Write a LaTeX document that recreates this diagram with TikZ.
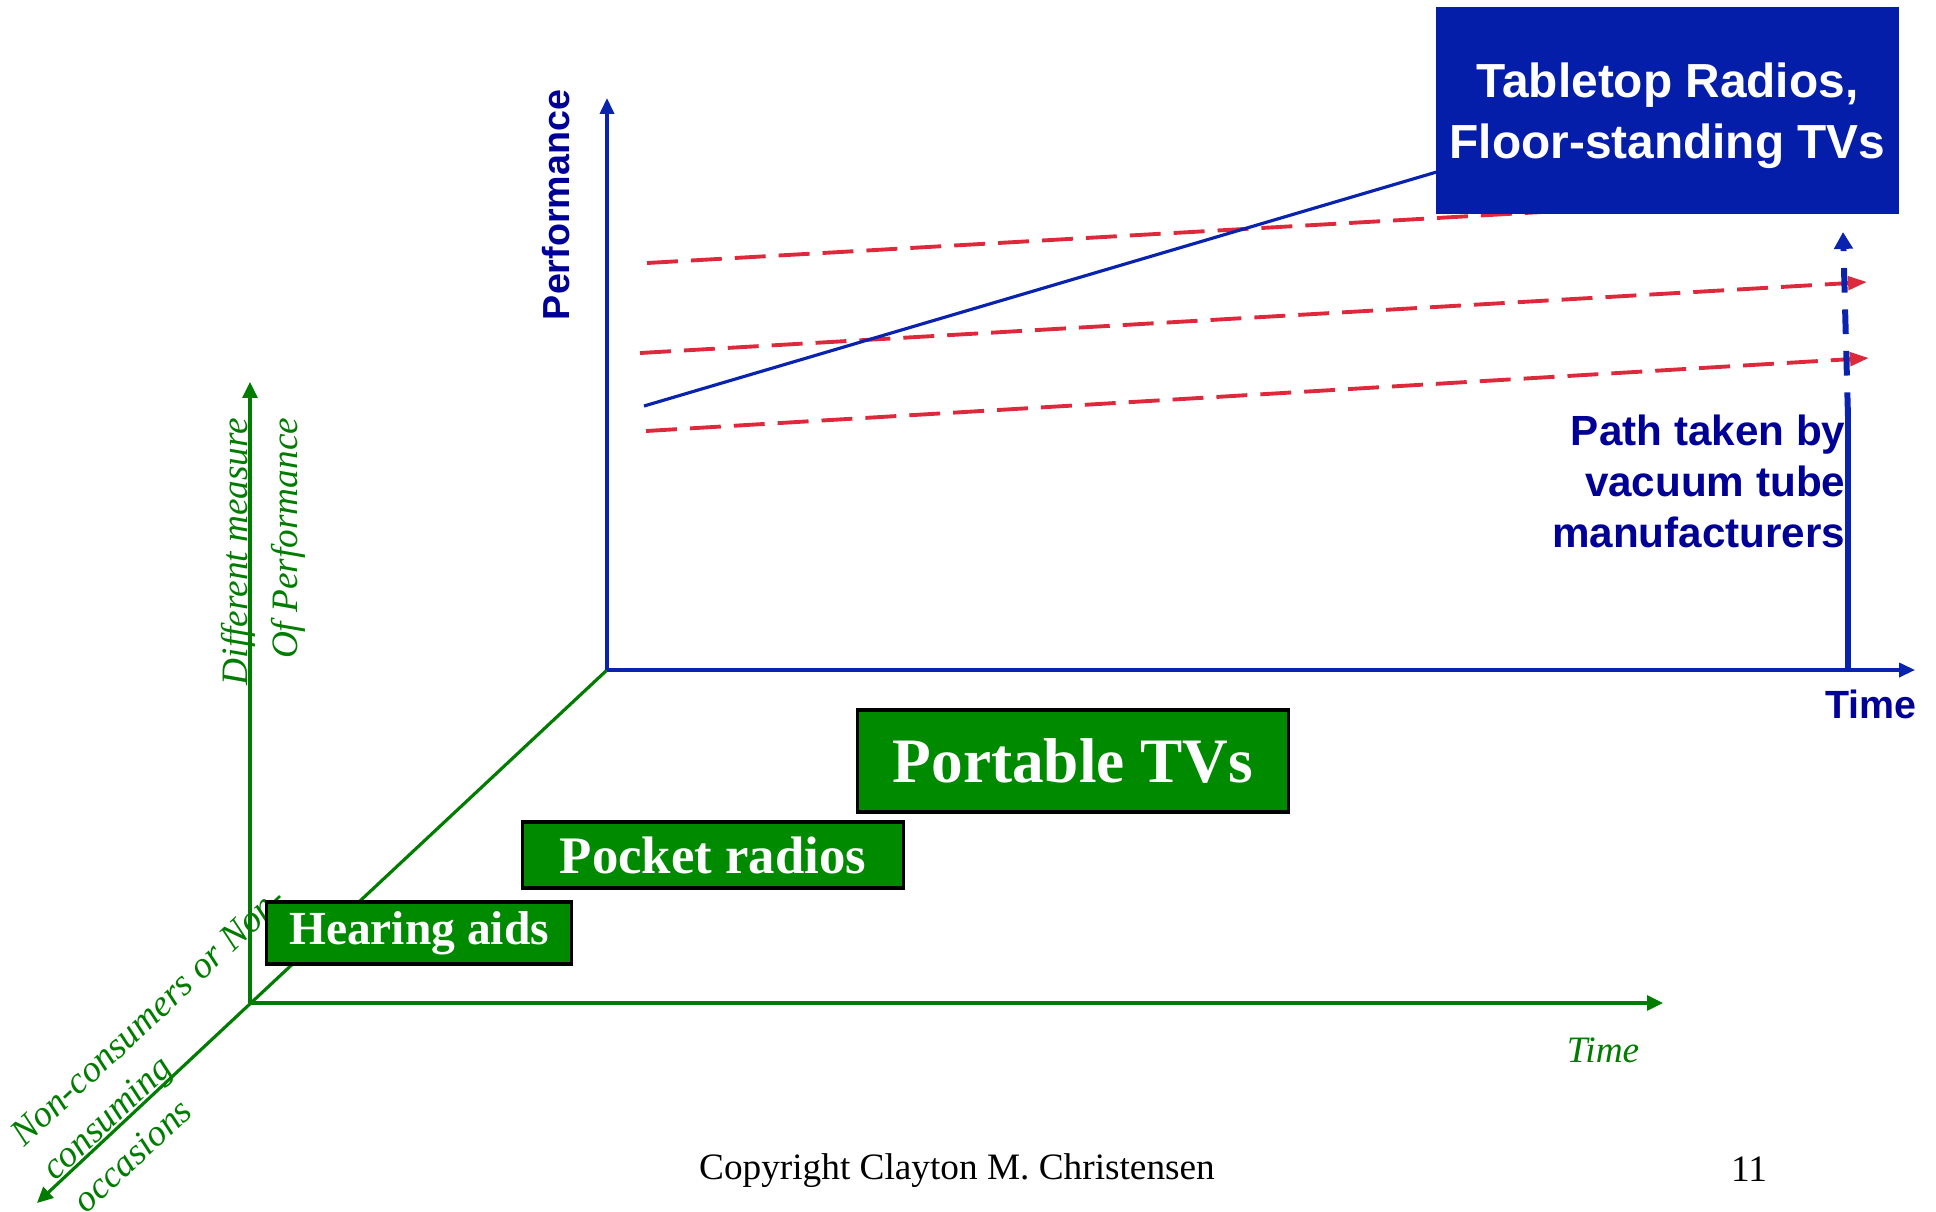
\documentclass[tikz,border=0pt]{standalone}
\usepackage{fontspec}
\usepackage{xcolor}
\usepackage{tikz}
\usetikzlibrary{arrows.meta,positioning}
\setmainfont{Liberation Serif}
\newfontfamily\arialfont{Liberation Sans}
\newfontfamily\timesfont{Liberation Serif}
\definecolor{boxblue}{RGB}{4,30,170}
\definecolor{navytext}{RGB}{0,0,150}
\definecolor{axisblue}{RGB}{10,35,175}
\definecolor{trendred}{RGB}{222,40,60}
\definecolor{axisgreen}{RGB}{0,125,0}
\definecolor{boxgreen}{RGB}{0,138,0}
\tikzset{
  bluearrow/.style={draw=axisblue,line width=0.9pt,-{Triangle[length=4.5pt,width=4pt]}},
  greenarrow/.style={draw=axisgreen,line width=0.9pt,-{Triangle[length=4.5pt,width=4.2pt]}},
  trendline/.style={draw=trendred,line width=1.1pt,dash pattern=on 8.8pt off 3.7pt},
  trendarrow/.style={trendline,-{Triangle[length=5.4pt,width=3.8pt]}},
  tubepath/.style={draw=axisblue,line width=1.7pt},
  marketbox/.style={draw=black,line width=0.9pt,fill=boxgreen,text=white,inner sep=0pt},
  greenlabel/.style={text=axisgreen,inner sep=0pt,font={\fontsize{10.6}{14.2}\timesfont\itshape}},
  bluelabel/.style={text=navytext,inner sep=0pt}
}
\begin{document}
\begin{tikzpicture}[x=0.01cm,y=-0.01cm]
    \useasboundingbox (0,0) rectangle (1936,1211);
    % Axis corners
    \coordinate (O) at (607,670);
    \coordinate (perftip) at (607,98);
    \coordinate (timetip) at (1915,670);
    \coordinate (G) at (250,1003);
    \coordinate (newperftip) at (250,382);
    \coordinate (newtimetip) at (1663,1003);
    \coordinate (nonconstip) at (37,1203);
    % Green (new) axes
    \draw[greenarrow] (G) -- (newperftip);
    \draw[greenarrow] (G) -- (newtimetip);
    \draw[greenarrow] (O) -- (nonconstip);
    \node[greenlabel,rotate=90,align=right,anchor=east] (newperf) at (263,417) {Different measure\\Of Performance};
    \node[greenlabel] (newtime) at (1603,1050) {Time};
    \node[greenlabel,rotate=43.1,align=left,anchor=west,font={\fontsize{10.6}{13}\timesfont\itshape}] (noncons) at (47,1173) {Non-consumers or Non-\\consuming\\occasions};
    % Market boxes
    \node[marketbox,minimum width=3.04cm,minimum height=0.62cm,font={\fontsize{13.5}{15}\timesfont\bfseries}] (hearing) at (419,933) {Hearing aids};
    \node[marketbox,minimum width=3.80cm,minimum height=0.66cm,font={\fontsize{15}{17}\timesfont\bfseries}] (pocket) at (713,855) {Pocket radios};
    \node[marketbox,minimum width=4.30cm,minimum height=1.02cm,font={\fontsize{18}{20}\timesfont\bfseries}] (portable) at (1073,761) {Portable TVs};
    % Blue (original) axes
    \draw[bluearrow] (O) -- (perftip);
    \draw[bluearrow] (O) -- (timetip);
    \node[bluelabel,rotate=90,font={\fontsize{10.7}{12}\arialfont\bfseries}] (perf) at (556,205) {Performance};
    \node[bluelabel,font={\fontsize{11.2}{13}\arialfont\bfseries}] (time) at (1871,704) {Time};
    % Trajectories
    \coordinate (redA1) at (647,263);
    \coordinate (redA2) at (1700,203);
    \coordinate (redB1) at (640,353);
    \coordinate (redB2) at (1867,282);
    \coordinate (redC1) at (646,431);
    \coordinate (redC2) at (1869,358);
    \draw[trendline] (redA1) -- (redA2);
    \draw[trendarrow] (redB1) -- (redB2);
    \draw[trendarrow] (redC1) -- (redC2);
    \coordinate (techstart) at (644,406);
    \coordinate (techend) at (1440,171);
    \draw[draw=axisblue,line width=0.9pt] (techstart) -- (techend);
    % Tabletop box
    \node[fill=boxblue,text=white,minimum width=4.63cm,minimum height=2.07cm,align=center,text depth=0pt,font={\fontsize{13.6}{17.3}\arialfont\bfseries}] (tabletop) at (1667.5,110.5) {Tabletop Radios,\\Floor-standing TVs};
    % Vacuum tube path
    \node[bluelabel,anchor=east,align=right,font={\fontsize{12}{14.5}\arialfont\bfseries}] (tubetext) at (1846,481) {Path taken by\\vacuum tube\\manufacturers};
    \coordinate (tubefoot) at (1848,670);
    \coordinate (tubebend) at (1848,417);
    \coordinate (tubetip) at (1843,232);
    \draw[tubepath] (tubefoot) -- (tubebend);
    \draw[tubepath,dash pattern=on 7pt off 4.8pt,-{Triangle[length=4.8pt,width=5.2pt]}] (tubebend) -- (tubetip);
    % Footer
    \node[font={\fontsize{10.6}{12}\timesfont}] (copyright) at (957,1171) {Copyright Clayton M. Christensen};
    \node[font={\fontsize{10.6}{12}\timesfont}] (pagenum) at (1749,1169) {11};
\end{tikzpicture}
\end{document}
